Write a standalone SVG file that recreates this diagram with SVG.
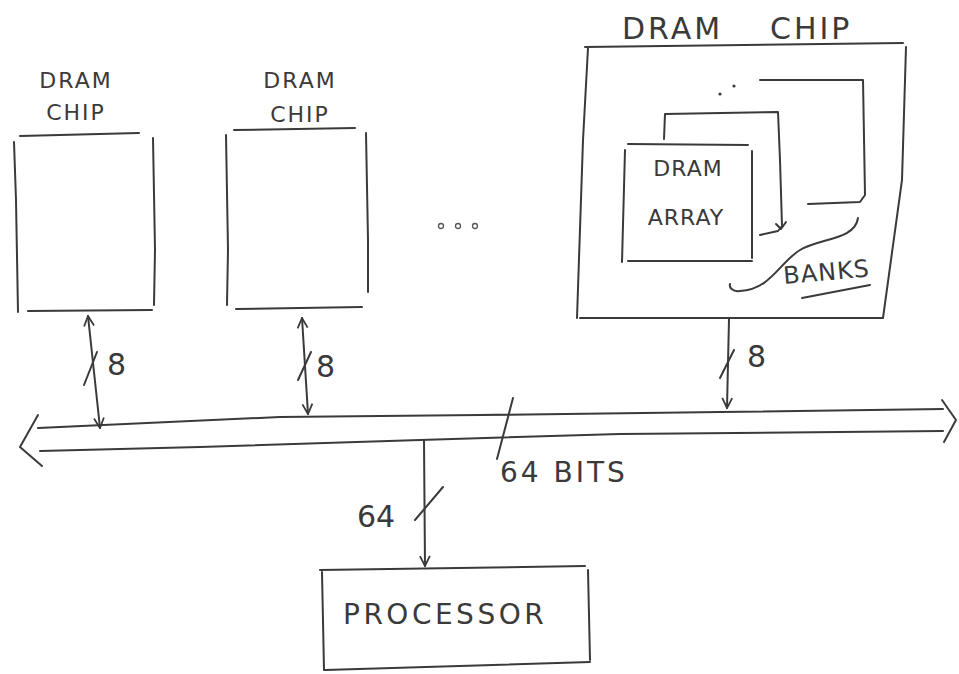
<svg xmlns="http://www.w3.org/2000/svg" width="959" height="674" viewBox="0 0 959 674">
<style>
.s{fill:none;stroke:#3a3a3a;stroke-width:2;stroke-linecap:round;stroke-linejoin:round}
.t{font-family:"DejaVu Sans",sans-serif;font-weight:normal;fill:#3a3a3a}
</style>
<defs>
<marker id="ah" viewBox="0 0 12 12" refX="11" refY="6" markerWidth="12" markerHeight="12" markerUnits="userSpaceOnUse" orient="auto-start-reverse">
<path d="M1,1 L11,6 L1,11" fill="none" stroke="#3a3a3a" stroke-width="1.8"/>
</marker>
</defs>
<rect width="959" height="674" fill="#fff"/>

<g id="chip1">
<path class="s" d="M20,136 L139,133 M14,142 L16,200 L18,312 M153,138 L155,250 L154,305 M28,311 L152,310"/>
<text class="t" x="76" y="88" font-size="22" text-anchor="middle" letter-spacing="2">DRAM</text>
<text class="t" x="76" y="120" font-size="22" text-anchor="middle" letter-spacing="2">CHIP</text>
</g>

<g id="chip2">
<path class="s" d="M234,130 L355,128 M226,135 L228,250 L227,305 M366,133 L368,240 L368,292 M236,309 L362,307"/>
<text class="t" x="300" y="88" font-size="22" text-anchor="middle" letter-spacing="2">DRAM</text>
<text class="t" x="300" y="122" font-size="22" text-anchor="middle" letter-spacing="2">CHIP</text>
</g>

<g id="ellipsis">
<circle cx="441" cy="226" r="2.5" fill="none" stroke="#555" stroke-width="1.3"/>
<circle cx="458" cy="226" r="2.5" fill="none" stroke="#555" stroke-width="1.3"/>
<circle cx="475" cy="226" r="2.5" fill="none" stroke="#555" stroke-width="1.3"/>
</g>

<g id="bigchip">
<path class="s" d="M585,47 L903,43 M588,48 L583,140 L577,318 M906,47 L902,180 L883,318 M580,318 L883,318"/>
<text class="t" x="622" y="39" font-size="30" letter-spacing="3">DRAM</text>
<text class="t" x="770" y="39" font-size="30" letter-spacing="3">CHIP</text>
<path class="s" d="M760,80 L863,80 L865,195 L860,202 L808,204"/>
<circle cx="720" cy="94" r="1.6" fill="#3a3a3a"/>
<circle cx="734" cy="86" r="1.6" fill="#3a3a3a"/>
<path class="s" d="M664,139 L665,114 L778,112 L780,160 L782,226 L778,231 L760,235"/>
<path class="s" d="M776,224 L781,229 L786,222"/>
</g>

<g id="dramarray">
<path class="s" d="M628,144 L748,145 M625,150 L622,262 M752,151 L752,258 M628,261 L752,261"/>
<text class="t" x="688" y="176" font-size="22" text-anchor="middle" letter-spacing="1">DRAM</text>
<text class="t" x="686" y="225" font-size="22" text-anchor="middle" letter-spacing="1">ARRAY</text>
</g>

<g id="banks">
<path class="s" d="M858,218 C855,240 820,238 800,250 C780,262 770,290 740,291 C732,292 729,287 730,284"/>
<text class="t" x="784" y="284" font-size="24" letter-spacing="1" transform="rotate(-5 784 284)">BANKS</text>
<path class="s" d="M802,298 L870,285"/>
</g>

<g id="processor">
<path class="s" d="M320,570 L585,566 M322,572 L324,670 M588,570 L590,660 M325,670 L590,662"/>
<text class="t" x="343" y="624" font-size="28" letter-spacing="3.5">PROCESSOR</text>
</g>

<g id="bus">
<path class="s" d="M38,428 L280,417 L480,415 L720,412 L943,409"/>
<path class="s" d="M40,451 L200,447 L420,440 L620,434 L943,431"/>
<path class="s" d="M38,415 L20,447 L42,466"/>
<path class="s" d="M942,400 L956,420 L944,442"/>
<path class="s" d="M513,398 L497,459"/>
<text class="t" x="500" y="482" font-size="28" letter-spacing="3">64 BITS</text>
</g>

<g id="connectors">
<path class="s" d="M88,316 L100,428" marker-start="url(#ah)" marker-end="url(#ah)"/>
<path class="s" d="M84,385 L97,352"/>
<text class="t" x="107" y="375" font-size="30">8</text>
<path class="s" d="M302,318 L308,414" marker-start="url(#ah)" marker-end="url(#ah)"/>
<path class="s" d="M298,380 L311,352"/>
<text class="t" x="316" y="377" font-size="30">8</text>
<path class="s" d="M729,319 L727,408" marker-end="url(#ah)"/>
<path class="s" d="M720,378 L734,350"/>
<text class="t" x="747" y="367" font-size="30">8</text>
<path class="s" d="M424,440 L425,566" marker-end="url(#ah)"/>
<path class="s" d="M415,520 L443,487"/>
<text class="t" x="357" y="527" font-size="30">64</text>
</g>
</svg>
